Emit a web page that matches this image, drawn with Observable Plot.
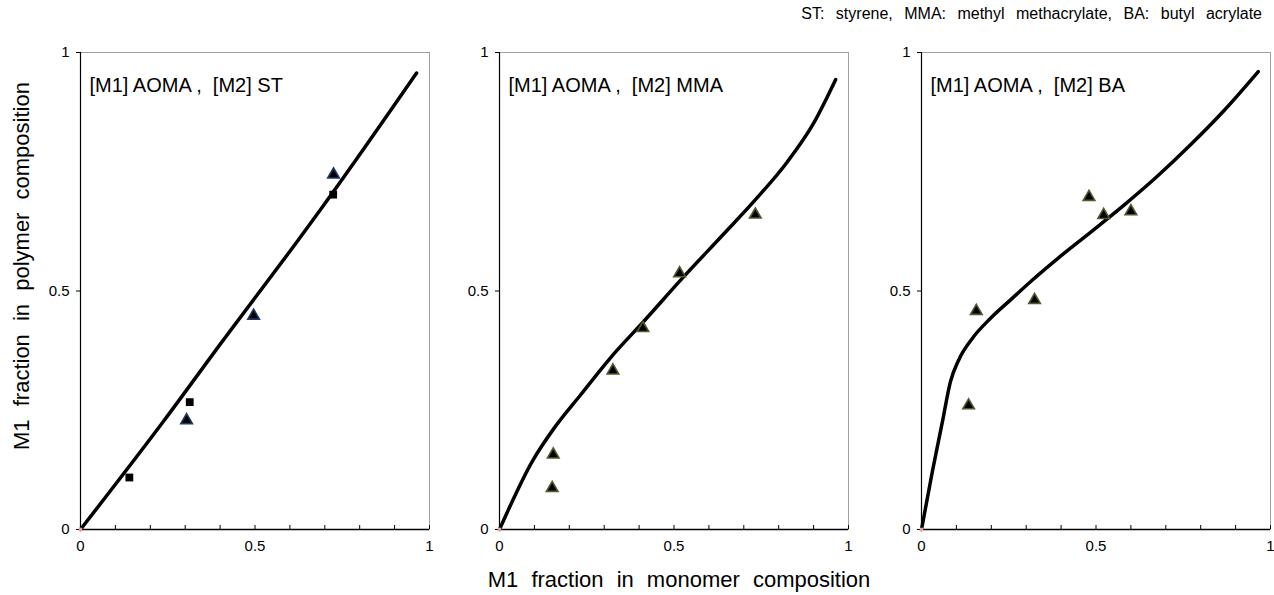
<!DOCTYPE html>
<html><head><meta charset="utf-8">
<script src="https://cdn.jsdelivr.net/npm/d3@7"></script>
<script src="https://cdn.jsdelivr.net/npm/@observablehq/plot@0.6"></script>
<style>
body{margin:0;background:#fff;font-family:"Liberation Sans",Arial,sans-serif;}
#root{position:relative;width:1274px;height:595px;overflow:hidden;background:#fff;}
.p{position:absolute;}
.p svg{overflow:visible;}
#note{position:absolute;right:12px;top:5px;font-size:16px;word-spacing:7px;color:#000;white-space:nowrap;}
#xt{position:absolute;left:679px;top:580px;transform:translate(-50%,-50%);font-size:22px;word-spacing:7px;color:#000;white-space:nowrap;}
#yt{position:absolute;left:22px;top:266px;transform:translate(-50%,-50%) rotate(-90deg);font-size:22px;word-spacing:7px;white-space:nowrap;color:#000;}
</style></head>
<body><div id="root">
<div id="note">ST: styrene, MMA: methyl methacrylate, BA: butyl acrylate</div>
<div id="yt">M1 fraction in polymer composition</div>
<div id="xt">M1 fraction in monomer composition</div>
</div>
<script>
// tick values
const majorTicks = [0, 0.5, 1];
const minorTicks = [0, 0.1, 0.2, 0.3, 0.4, 0.5, 0.6, 0.7, 0.8, 0.9, 1];
const panelLabels = ["[M1] AOMA ,  [M2] ST", "[M1] AOMA ,  [M2] MMA", "[M1] AOMA ,  [M2] BA"];

// Panel 1: ST
const stCurveX = [0, 0.24, 0.408, 0.623, 0.69, 0.963];
const stCurveY = [0, 0.229, 0.396, 0.606, 0.673, 0.957];
const stSquareX = [0.14, 0.313, 0.724];
const stSquareY = [0.109, 0.267, 0.702];
const stTriX = [0.304, 0.496, 0.725];
const stTriY = [0.229, 0.448, 0.744];

// Panel 2: MMA
const mmaCurveX = [0, 0.094, 0.156, 0.232, 0.318, 0.413, 0.528, 0.643, 0.734, 0.824, 0.901, 0.963];
const mmaCurveY = [0, 0.143, 0.212, 0.282, 0.360, 0.436, 0.530, 0.620, 0.692, 0.770, 0.853, 0.943];
const mmaTriX = [0.151, 0.154, 0.325, 0.411, 0.516, 0.733];
const mmaTriY = [0.087, 0.157, 0.333, 0.422, 0.537, 0.660];

// Panel 3: BA
const baCurveX = [0, 0.031, 0.060, 0.083, 0.107, 0.146, 0.198, 0.256, 0.313, 0.390, 0.486, 0.582, 0.678, 0.773, 0.869, 0.965];
const baCurveY = [0, 0.121, 0.226, 0.310, 0.356, 0.401, 0.443, 0.482, 0.520, 0.568, 0.624, 0.681, 0.742, 0.808, 0.880, 0.960];
const baTriX = [0.135, 0.157, 0.324, 0.480, 0.522, 0.600];
const baTriY = [0.260, 0.458, 0.481, 0.697, 0.659, 0.667];

const originX = [0];
const originY = [0];

const zip = (xs, ys) => xs.map((x, i) => ({x, y: ys[i]}));

function panel(label, cx, cy, tx, ty, triStroke, sx, sy) {
  const marks = [
    Plot.frame({stroke: "#a0a0a0", strokeWidth: 1}),
    Plot.axisX(minorTicks, {tickSize: -4, tickFormat: () => "", label: null}),
    Plot.axisX(majorTicks, {tickSize: 0, tickPadding: 11, tickFormat: d => String(d), label: null}),
    Plot.axisY(majorTicks, {tickSize: 4, tickPadding: 7, tickFormat: d => String(d), label: null}),
    Plot.ruleX([0], {stroke: "#000", strokeWidth: 1.2}),
    Plot.ruleY([0], {stroke: "#000", strokeWidth: 1.5}),
    Plot.line(zip(cx, cy), {x: "x", y: "y", stroke: "#000", strokeWidth: 3.5, curve: "monotone-x"}),
    Plot.dot(zip(originX, originY), {x: "x", y: "y", symbol: "square", r: 2, fill: "#e8a0a0", stroke: "none"}),
    Plot.text([label], {frameAnchor: "top-left", textAnchor: "start", lineAnchor: "top", dx: 9, dy: 25, fontSize: 20, fill: "#000"})
  ];
  if (sx) marks.push(Plot.dot(zip(sx, sy), {x: "x", y: "y", symbol: "square", r: 4.4, fill: "#000", stroke: "none"}));
  marks.push(Plot.dot(zip(tx, ty), {x: "x", y: "y", symbol: "triangle", r: 4.3, fill: "#000", stroke: triStroke, strokeWidth: 1.6}));
  const svg = Plot.plot({
    width: 398, height: 517,
    marginLeft: 45, marginRight: 4, marginTop: 8, marginBottom: 32,
    x: {domain: [0, 1]}, y: {domain: [0, 1]},
    style: {fontFamily: "'Liberation Sans', Arial, sans-serif", fontSize: "14px", color: "#000", background: "transparent", overflow: "visible"},
    marks
  });
  svg.querySelectorAll("text").forEach(t => {
    if (/^(0|0\.5|1)$/.test(t.textContent.trim())) t.style.fontSize = "15px";
  });
  return svg;
}

const root = document.getElementById("root");
const specs = [
  {left: 34.5, el: panel(panelLabels[0], stCurveX, stCurveY, stTriX, stTriY, "#1f3864", stSquareX, stSquareY)},
  {left: 454, el: panel(panelLabels[1], mmaCurveX, mmaCurveY, mmaTriX, mmaTriY, "#4f5b2a")},
  {left: 876, el: panel(panelLabels[2], baCurveX, baCurveY, baTriX, baTriY, "#4f5b2a")}
];
for (const s of specs) {
  const d = document.createElement("div");
  d.className = "p";
  d.style.left = s.left + "px";
  d.style.top = "44px";
  d.appendChild(s.el);
  root.appendChild(d);
}
</script>
</body></html>
